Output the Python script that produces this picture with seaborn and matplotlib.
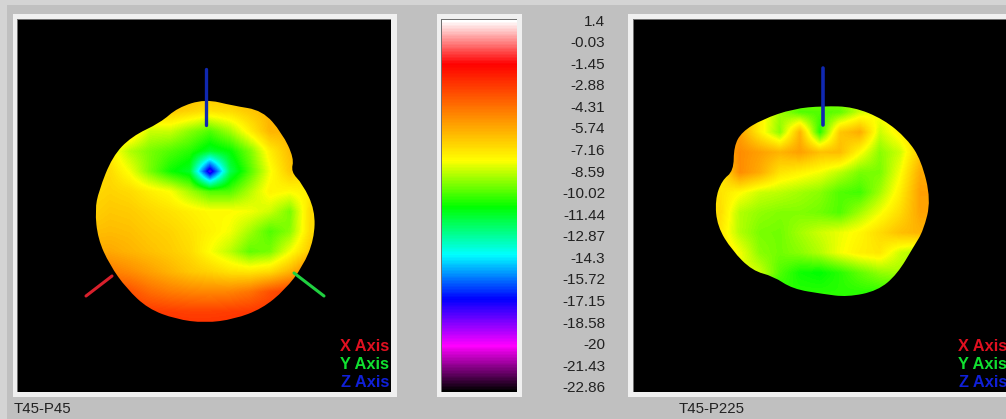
import numpy as np
import matplotlib
matplotlib.use("Agg")
import matplotlib.pyplot as plt
from matplotlib.colors import LinearSegmentedColormap
from matplotlib.patches import PathPatch, Rectangle
from matplotlib.path import Path
import seaborn as sns

W, H = 1006, 419

scale_labels = ["1.4", "-0.03", "-1.45", "-2.88", "-4.31", "-5.74", "-7.16", "-8.59", "-10.02",
                "-11.44", "-12.87", "-14.3", "-15.72", "-17.15", "-18.58", "-20", "-21.43", "-22.86"]
scale_top, scale_bottom = 1.4, -23.2

# colour of the gain scale, dB -> colour
stop_db = [-23.2, -20.2, -17.1, -14.14, -10.97, -7.87, -1.45, 1.4]
stop_col = ["#000000", "#ff00ff", "#0000ff", "#00ffff", "#00ff00", "#ffff00", "#ff0000", "#ffffff"]

# outline of each pattern, angle (deg) and radius (px) round its centre
left_angle = [0, 15, 24, 30, 45, 60, 75, 90, 105, 117, 135, 150, 170, 180, 195, 210, 225, 240, 255, 270, 285, 300, 315, 330, 345]
left_radius = [110, 101, 94, 103, 109, 115, 108, 111, 106, 98, 104, 107, 108, 110, 111, 110, 111, 114, 113, 113, 113, 114, 113, 113, 113]
right_angle = [0, 22, 36, 53, 72, 90, 108, 127, 140, 149, 162, 169, 180, 194, 209, 225, 237, 251, 270, 284, 301, 315, 333, 343]
right_radius = [108, 106, 104, 101, 98, 94, 96, 101, 106, 104, 94, 103, 108, 109, 104, 100, 91, 94, 94, 100, 106, 105, 102, 105]

# gain read across each pattern in dB, one row per 20 px
left_gain = [
    [-6, -6, -6, -6, -6, -6, -6.2, -6.2, -6, -6, -6, -6],
    [-6.5, -6.5, -6.5, -6.5, -6.5, -6.8, -7.2, -7, -6.5, -6, -6, -6],
    [-7, -7, -7, -8.5, -8.5, -9.3, -10, -9, -7.5, -6, -6, -6],
    [-7.5, -7.5, -8.8, -9.5, -10, -10.5, -11.5, -11, -9.5, -7.5, -6.2, -6.5],
    [-7, -7, -8, -9.5, -10.8, -11.5, -18, -12, -10, -8, -6.5, -7],
    [-7, -6.8, -7, -7.5, -7.9, -9, -10, -10, -8.8, -7.6, -7.8, -7.5],
    [-6.8, -6.5, -6.6, -6.9, -7.2, -7.5, -7.8, -7.8, -8, -8.5, -9.5, -7],
    [-6.3, -6.2, -6.3, -6.6, -6.8, -7.2, -7.6, -8, -9, -10, -9.3, -7],
    [-5.8, -5.7, -6, -6.3, -6.6, -7, -7.9, -8.7, -9.8, -9.5, -8, -6.5],
    [-4.6, -4.6, -5, -5.5, -6, -6.5, -6.8, -7.2, -7.3, -7, -6, -4.5],
    [-3.3, -3.3, -3.5, -4.2, -4.6, -4.8, -4.9, -4.8, -4.4, -3.5, -3, -3],
    [-2.8, -2.8, -2.8, -2.9, -3, -3.1, -3.1, -3, -2.9, -2.8, -2.8, -2.8],
    [-2.5, -2.5, -2.5, -2.5, -2.5, -2.5, -2.5, -2.5, -2.5, -2.5, -2.5, -2.5],
]
right_gain = [
    [-9, -9, -9, -9, -9, -9, -9, -9, -9, -9, -9, -9],
    [-7, -7, -6, -7.5, -9, -10, -10, -9.8, -8.5, -7.8, -7.5, -7.5],
    [-6, -6, -5.5, -7.5, -9.3, -6, -10.5, -6.5, -5.8, -8.5, -7.5, -7],
    [-6, -6, -5, -5.5, -6, -5.5, -6.3, -6.2, -7.8, -9.3, -8.5, -6.5],
    [-7.5, -7.5, -5, -5.8, -7.2, -7.6, -8, -8.7, -9.5, -9.5, -8, -5.8],
    [-7.2, -7.2, -7.8, -8.5, -8.7, -9, -9.3, -10, -10.2, -9, -7.5, -5.5],
    [-7, -7, -8.8, -9.2, -9.4, -9.4, -9.6, -10, -9, -8, -7, -5.6],
    [-7.3, -7.3, -8.8, -9.5, -9.6, -9, -8.5, -8.1, -7.7, -7, -6.3, -6],
    [-7, -7, -8, -9.3, -9.6, -9.3, -8.8, -8, -7.5, -7.3, -8.5, -9],
    [-8, -8, -8, -8.5, -10, -10.8, -11, -10.5, -9.8, -9.2, -9, -9],
    [-10.5, -10.5, -10.5, -10.5, -10.5, -10.5, -10.5, -10.5, -10.5, -10.5, -10.5, -10.5],
]

axis_names = ["X Axis", "Y Axis", "Z Axis"]
axis_cols = ["#e01020", "#10e030", "#1020d8"]

sns.set_style("white")
plt.rcParams["font.family"] = ["Liberation Sans", "DejaVu Sans"]

cmap = LinearSegmentedColormap.from_list(
    "gain", [((v - scale_bottom) / (scale_top - scale_bottom), c) for v, c in zip(stop_db, stop_col)])

fig = plt.figure(figsize=(W / 100, H / 100), dpi=100, facecolor="#c0c0c0")


def px_axes(x0, y0, x1, y1):
    return fig.add_axes([x0 / W, 1 - y1 / H, (x1 - x0) / W, (y1 - y0) / H])


def block(x0, y0, x1, y1, col):
    fig.add_artist(Rectangle((x0 / W, 1 - y1 / H), (x1 - x0) / W, (y1 - y0) / H,
                             transform=fig.transFigure, fc=col, ec="none", zorder=-1))


def rounded(xs, ys):
    # outline as quadratic curves through the midpoints, so it does not look faceted
    pts = np.c_[xs, ys]
    mids = (pts + np.roll(pts, -1, axis=0)) / 2
    verts = [mids[-1]]
    codes = [Path.MOVETO]
    for p, m in zip(pts, mids):
        verts += [p, m]
        codes += [Path.CURVE3, Path.CURVE3]
    return Path(verts, codes)


def panel(box, gain, grid_x, grid_y, centre, angle, radius):
    x0, y0, x1, y1 = box
    ax = px_axes(x0, y0, x1, y1)
    ax.set_facecolor("black")
    gain = np.array(gain)
    rows, cols = gain.shape
    img = ax.imshow(gain, cmap=cmap, vmin=scale_bottom, vmax=scale_top, interpolation="bilinear", aspect="auto",
                    extent=(grid_x - 10, grid_x - 10 + cols * 20, grid_y - 10 + rows * 20, grid_y - 10))
    t = np.radians(angle)
    outline = PathPatch(rounded(centre[0] + np.cos(t) * radius, centre[1] - np.sin(t) * radius),
                        transform=ax.transData, fc="none", ec="none")
    ax.add_patch(outline)
    img.set_clip_path(outline)
    ax.set_xlim(x0, x1)
    ax.set_ylim(y1, y0)
    ax.set_xticks([])
    ax.set_yticks([])
    for s in ax.spines.values():
        s.set_visible(False)
    return ax


def stub(ax, xs, ys, col, lw):
    sns.lineplot(x=xs, y=ys, ax=ax, color=col, lw=lw, estimator=None, sort=False, legend=False)
    ax.set_xlabel("")
    ax.set_ylabel("")


# lighter window edge, then the raised frames with a dark inner line
block(0, 0, W, 5, "#d4d4d4")
block(0, 0, 7, H, "#d4d4d4")
for x0, x1, in_x0, in_x1 in ((13, 397, 18, 391), (437, 522, 442, 517), (628, 1006, 634, 1006)):
    block(x0, 14, x1, 397, "#f0f0f0")
    block(in_x0 - 1, 19, in_x1, 392, "#707070")

ax_l = panel((18, 20, 391, 392), left_gain, 90, 92, (205, 210), left_angle, np.array(left_radius))
stub(ax_l, [86, 112], [296, 276], "#d8202c", 2.2)
stub(ax_l, [294, 324], [273, 296], "#20d040", 2.2)
stub(ax_l, [205.5, 205.5], [69, 125], "#1028b0", 2.4)
ax_l.set_xlim(18, 391)
ax_l.set_ylim(392, 20)

ax_r = panel((634, 20, 1006, 392), right_gain, 700, 93, (823, 200), right_angle, np.array(right_radius))
stub(ax_r, [822.5, 822.5], [68, 125], "#1028b0", 2.6)
ax_r.set_xlim(634, 1006)
ax_r.set_ylim(392, 20)

# axis key in the lower corner of each panel
for x_right in (389, 1007):
    for name, col, y in zip(axis_names, axis_cols, (346, 364, 382)):
        fig.text(x_right / W, 1 - y / H, name, color=col, fontsize=11.8, fontweight="bold", ha="right", va="center")

# gain scale
ax_bar = px_axes(442, 20, 517, 392)
ramp = np.linspace(scale_top, scale_bottom, 372).reshape(-1, 1)
sns.heatmap(ramp, ax=ax_bar, cmap=cmap, vmin=scale_bottom, vmax=scale_top, cbar=False,
            xticklabels=False, yticklabels=False)
ticks = [(scale_top - float(s)) / (scale_top - scale_bottom) * 372 + 1.5 for s in scale_labels]
ax_bar.yaxis.tick_right()
ax_bar.set_yticks(ticks)
ax_bar.set_yticklabels(scale_labels, rotation=0, fontsize=11, color="#222222", ha="right", va="center")
ax_bar.tick_params(axis="y", length=0, pad=63.4, right=False, labelright=True)

fig.text(14 / W, 1 - 409 / H, "T45-P45", fontsize=10.8, color="#222222", va="center")
fig.text(679 / W, 1 - 409 / H, "T45-P225", fontsize=10.8, color="#222222", va="center")

fig.savefig("out.png", dpi=100, facecolor=fig.get_facecolor())
